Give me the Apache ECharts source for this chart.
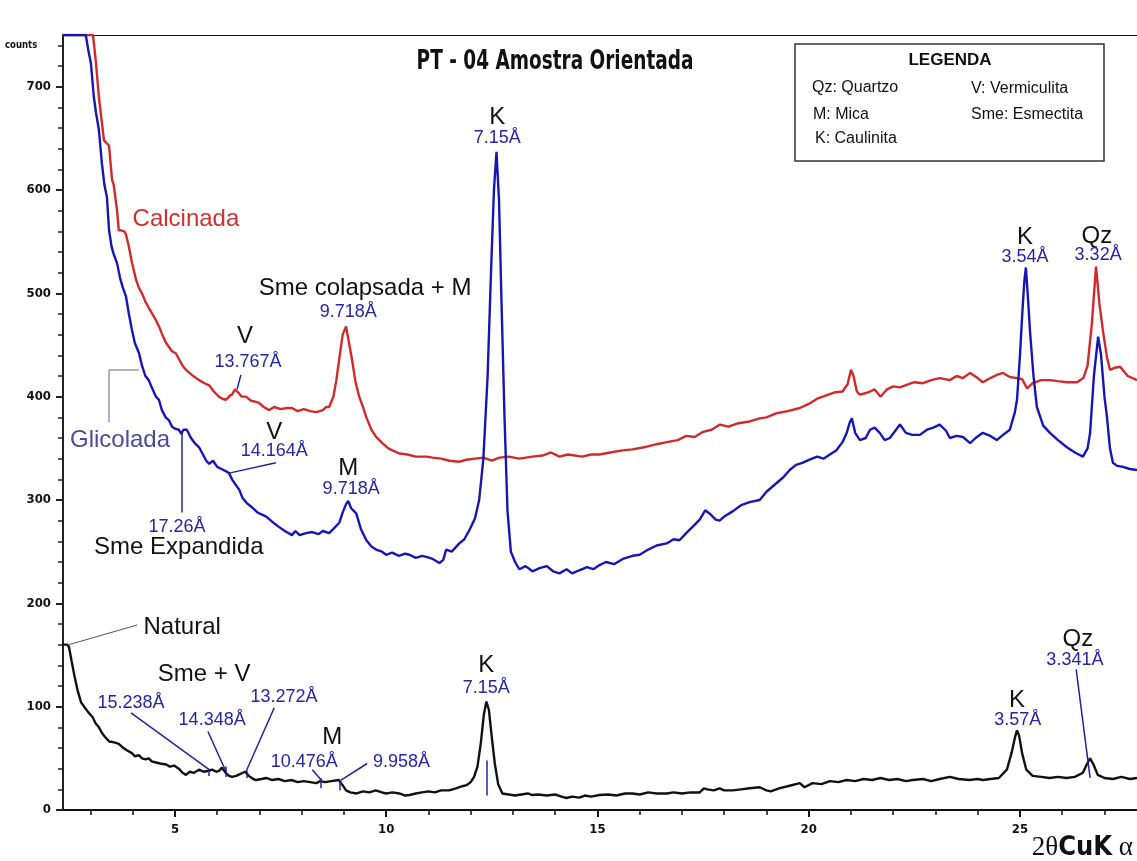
<!DOCTYPE html>
<html><head><meta charset="utf-8">
<script src="https://cdn.jsdelivr.net/npm/echarts@6.0.0/dist/echarts.min.js"></script>
<style>html,body{margin:0;padding:0;background:#fff}#c{width:1137px;height:861px}</style>
</head><body><div id="c"></div>
<script>
// ---- data (2θ in degrees, counts) ----
const natX = [2.35,2.45,2.49,2.55,2.62,2.7,2.78,2.85,2.96,3.05,3.12,3.2,3.28,3.36,3.45,3.51,3.6,3.67,3.75,3.85,3.98,4.05,4.15,4.22,4.3,4.38,4.45,4.55,4.65,4.79,4.88,4.98,5.09,5.18,5.26,5.35,5.45,5.57,5.68,5.8,5.88,5.98,6.05,6.11,6.2,6.28,6.35,6.45,6.55,6.66,6.75,6.85,6.92,7.05,7.16,7.3,7.45,7.6,7.77,7.9,8.05,8.2,8.35,8.44,8.55,8.7,8.88,8.95,9.05,9.15,9.3,9.45,9.6,9.75,9.9,10.0,10.15,10.31,10.45,10.55,10.7,10.85,11.0,11.15,11.3,11.49,11.65,11.8,11.9,12.0,12.08,12.16,12.24,12.31,12.37,12.43,12.5,12.57,12.65,12.75,12.9,13.05,13.2,13.35,13.46,13.6,13.8,14.0,14.15,14.27,14.4,14.57,14.7,14.85,15.05,15.25,15.45,15.65,15.83,16.0,16.2,16.4,16.64,16.8,17.0,17.2,17.42,17.52,17.6,17.75,17.89,18.0,18.2,18.4,18.6,18.84,19.0,19.1,19.3,19.5,19.79,19.9,20.09,20.3,20.5,20.7,20.9,21.1,21.3,21.5,21.7,21.9,22.1,22.3,22.46,22.7,22.9,23.1,23.34,23.55,23.8,24.0,24.12,24.3,24.5,24.69,24.8,24.88,24.93,24.98,25.05,25.15,25.3,25.5,25.7,25.9,26.1,26.3,26.49,26.58,26.66,26.74,26.84,27.0,27.2,27.4,27.6,27.77];
const natY = [160,160,158,145,130,115,104,100,94,90,84,80,74,70,66,66,65,64,61,58,55,52,53,50,49,50,47,46,45,44,42,43,40,36,34,37,36,39,37,38,39,37,38,41,36,33,32,33,35,37,33,30,29,30,31,29,30,28,29,27,28,27,26,28,27,28,29,25,19,17,16,18,17,19,17,16,17,16,14,14.5,16,17,18,17,19,19,21,23,24,27,32,42,65,92,105,97,70,45,25,16,15,14,15,16,14.5,15,14,15,13,11.6,13,12,14,13,14.5,15,14,16,16,15,17,16,16,17,16,17,17,21,20,19,21,19,19,20,21,22,19,18,21,23,26,22,26,25,28,27,29,28,30,29,31,29,30,28,29,30,28,30,32,30,29,30,29,30,31,39,55,70,77,72,55,39,33,32,31,32,31,32,36,44,50,44,34,31,30,32,30,31];

const gliX = [2.35,2.89,2.95,3.01,3.08,3.13,3.2,3.27,3.33,3.39,3.44,3.5,3.55,3.63,3.7,3.77,3.84,3.91,3.98,4.05,4.15,4.22,4.3,4.38,4.45,4.55,4.62,4.69,4.78,4.86,4.93,5.0,5.09,5.15,5.2,5.28,5.38,5.47,5.57,5.65,5.74,5.81,5.9,6.0,6.1,6.2,6.28,6.35,6.45,6.52,6.6,6.7,6.82,6.95,7.05,7.16,7.3,7.46,7.6,7.77,7.85,7.95,8.1,8.25,8.4,8.5,8.65,8.75,8.89,8.97,9.05,9.1,9.17,9.29,9.4,9.53,9.65,9.76,9.9,10.0,10.14,10.3,10.45,10.55,10.7,10.85,10.95,11.1,11.26,11.35,11.42,11.55,11.73,11.85,11.97,12.1,12.2,12.3,12.4,12.48,12.55,12.61,12.67,12.73,12.8,12.87,12.95,13.05,13.15,13.3,13.46,13.63,13.8,13.95,14.1,14.27,14.4,14.57,14.75,14.9,15.05,15.2,15.4,15.6,15.83,16.0,16.2,16.4,16.64,16.8,16.94,17.1,17.25,17.42,17.55,17.65,17.8,17.89,18.0,18.2,18.4,18.6,18.84,19.0,19.2,19.4,19.55,19.7,19.85,20.02,20.2,20.35,20.5,20.65,20.8,20.9,20.97,21.02,21.1,21.21,21.35,21.45,21.56,21.68,21.8,21.92,22.05,22.16,22.3,22.45,22.63,22.8,22.95,23.1,23.25,23.34,23.5,23.65,23.82,23.95,24.12,24.3,24.45,24.6,24.76,24.88,24.93,25.0,25.05,25.1,25.14,25.19,25.24,25.32,25.4,25.55,25.71,25.9,26.11,26.3,26.49,26.6,26.66,26.75,26.85,26.92,27.0,27.06,27.13,27.2,27.3,27.44,27.6,27.77];
const gliY = [750,750,735,723,690,675,658,626,605,593,561,545,538,529,515,505,497,480,465,452,442,430,420,416,409,400,397,387,380,377,371,369,368,364,368,368,360,355,351,345,338,335,338,332,330,328,326,320,314,310,302,297,293,288,286,284,279,274,270,266,270,266,268,269,267,270,268,272,278,288,296,299,292,287,272,261,255,252,250,247,249,246,248,247,244,246,245,243,239,242,252,250,258,262,271,282,300,340,420,520,600,637,590,490,380,290,250,240,233,236,231,234,236,231,229,233,229,232,235,233,237,240,238,243,246,247,252,256,258,262,261,268,274,281,290,287,281,280,284,289,295,298,300,308,315,322,329,334,336,339,342,340,344,348,356,365,375,379,365,358,360,368,370,365,358,360,367,373,365,363,363,368,370,373,367,360,362,361,355,360,365,362,358,363,368,385,397,440,477,510,525,495,462,420,390,372,365,358,351,346,342,350,365,420,458,440,400,380,350,336,333,332,330,329];

const calX = [2.35,3.06,3.13,3.2,3.32,3.39,3.44,3.51,3.55,3.63,3.67,3.72,3.8,3.84,3.91,3.98,4.08,4.15,4.22,4.3,4.38,4.45,4.55,4.62,4.7,4.79,4.86,4.93,5.02,5.1,5.18,5.26,5.4,5.57,5.7,5.81,5.92,6.04,6.12,6.21,6.3,6.35,6.42,6.5,6.58,6.68,6.8,6.92,6.99,7.1,7.23,7.35,7.5,7.65,7.77,7.9,8.05,8.2,8.35,8.5,8.58,8.65,8.75,8.82,8.9,8.97,9.05,9.12,9.19,9.27,9.36,9.45,9.53,9.65,9.76,9.91,10.05,10.2,10.31,10.5,10.7,10.95,11.1,11.3,11.5,11.73,11.9,12.1,12.3,12.5,12.68,12.9,13.15,13.46,13.7,13.9,14.1,14.3,14.64,14.85,15.05,15.3,15.6,15.83,16.1,16.4,16.64,16.9,17.1,17.3,17.5,17.7,17.9,18.1,18.3,18.6,18.84,19.0,19.24,19.5,19.79,20.0,20.2,20.4,20.6,20.8,20.92,21.0,21.06,21.14,21.21,21.4,21.56,21.7,21.85,22.0,22.16,22.35,22.5,22.7,22.9,23.1,23.34,23.5,23.65,23.82,24.0,24.12,24.3,24.45,24.6,24.76,24.93,25.05,25.17,25.3,25.5,25.71,25.9,26.11,26.35,26.5,26.6,26.7,26.8,26.88,26.97,27.06,27.13,27.25,27.37,27.55,27.77];
const calY = [750,750,723,690,648,645,643,610,605,580,561,561,560,557,545,530,513,505,500,492,486,481,474,468,460,452,448,444,442,436,430,426,421,416,413,411,405,400,398,397,401,402,407,404,400,400,396,395,394,390,387,390,388,389,389,386,388,386,385,387,390,390,400,416,440,460,468,452,436,415,400,390,380,368,361,355,350,347,345,344,342,342,341,340,338,337,339,340,341,338,341,342,340,342,343,346,342,344,342,344,344,346,348,349,351,354,356,358,362,361,366,368,373,371,374,376,379,380,384,386,389,393,398,401,404,405,412,426,420,405,402,404,407,400,407,410,409,412,414,413,416,418,416,420,418,423,418,414,418,421,423,419,418,417,408,413,416,416,415,414,414,418,430,470,526,490,462,438,426,428,429,420,416];

// tick values
const xLabelTicks = [5,10,15,20,25];
const xMinorTicks = [3,4,6,7,8,9,11,12,13,14,16,17,18,19,21,22,23,24,26,27];
const yLabelTicks = [0,100,200,300,400,500,600,700];
const yMinorTicks = [20,40,60,80,120,140,160,180,220,240,260,280,320,340,360,380,420,440,460,480,520,540,560,580,620,640,660,680,720,740];

// annotations: text, x (2θ), y (counts), kind
const annText = ['Calcinada','Sme colapsada + M','9.718Å','V','13.767Å','Glicolada','V','14.164Å','M','9.718Å','17.26Å','Sme Expandida','K','7.15Å','K','3.54Å','Qz','3.32Å','Natural','Sme + V','15.238Å','14.348Å','13.272Å','M','10.476Å','9.958Å','K','7.15Å','K','3.57Å','Qz','3.341Å'];
const annX = [5.26,9.50,9.10,6.66,6.73,3.70,7.35,7.35,9.10,9.17,5.05,5.09,12.63,12.63,25.12,25.12,26.82,26.85,5.17,5.69,3.96,5.88,7.58,8.72,8.06,10.36,12.37,12.37,24.93,24.95,26.37,26.30];
const annY = [572,505,482,458,434,358,365,347,331,311,274,254,670,650,554,535,555,537,177,131,104,87,109,70,46,46,140,118,106,87,165,145];
const annKind = ['red','black','blue','black','blue','gli','black','blue','black','blue','blue','black','black','blue','black','blue','black','blue','black','black','blue','blue','blue','black','blue','blue','black','blue','black','blue','black','blue'];

// leader lines: x1,y1,x2,y2,kind
const leadX1 = [6.56,7.39,5.15,2.49,3.44,3.44,3.96,5.78,7.35,8.25,9.55,12.38,26.33,5.81,6.20,6.70,8.46,8.89];
const leadY1 = [421,336,365,160,426,426,94,76,99,39,45,48,136,40,42,38,31,29];
const leadX2 = [6.47,6.28,5.15,4.10,4.15,3.44,5.81,6.21,6.68,8.46,8.93,12.38,26.66,5.81,6.20,6.70,8.46,8.89];
const leadY2 = [407,326,288,179,426,375,39,37,37,29,29,14,31,33,32,31,21,19];
const leadKind = ['blue','blue','blue','dark','gray','gray','blue','blue','blue','blue','blue','blue','blue','blue','blue','blue','blue','blue'];

// ---- build ----
const zip = (a,b)=>a.map((v,i)=>[v,b[i]]);
const RED='#d12a2a', BLUE='#1616b4', BLACK='#111111', LBLUE='#2525a6', GLI='#4a4a9c';
const kindStyle = {
  red:{color:'#d03030',fontSize:24},
  black:{color:'#111',fontSize:24},
  blue:{color:LBLUE,fontSize:18},
  gli:{color:GLI,fontSize:24}
};
const annData = annText.map((t,i)=>({
  value:[annX[i],annY[i]],
  label:Object.assign({show:true,position:'inside',formatter:t,opacity:1,fontFamily:"'Liberation Sans', Arial, sans-serif"}, kindStyle[annKind[i]])
}));
const lineColor = {blue:'#2222a0', gray:'#9a9a9a', dark:'#555'};
const leadData = leadX1.map((x,i)=>[
  {coord:[x,leadY1[i]], lineStyle:{color:lineColor[leadKind[i]], width:leadKind[i]==='dark'?1:1.5, type:'solid', opacity:1}},
  {coord:[leadX2[i],leadY2[i]]}
]);

const narrow = "'Liberation Sans Narrow','DejaVu Sans Condensed','Arial Narrow',sans-serif";
const XMIN=2.35, XMAX=27.77, YMIN=0, YMAX=750;

const chart = echarts.init(document.getElementById('c'), null, {renderer:'canvas'});
chart.setOption({
  animation:false,
  backgroundColor:'#fff',
  grid:{left:63,right:0,top:35,bottom:51,containLabel:false},
  xAxis:[
    {type:'value',min:XMIN,max:XMAX,position:'bottom',
     axisLine:{show:true,onZero:false,lineStyle:{color:'#111',width:2}},
     axisTick:{show:true,customValues:xLabelTicks,length:7,lineStyle:{color:'#111',width:2}},
     axisLabel:{show:true,customValues:xLabelTicks,margin:13,color:'#111',fontFamily:narrow,fontWeight:'bold',fontSize:13},
     splitLine:{show:false}},
    {type:'value',min:XMIN,max:XMAX,position:'bottom',
     axisLine:{show:false,onZero:false},
     axisTick:{show:true,customValues:xMinorTicks,length:5,lineStyle:{color:'#111',width:1.5}},
     axisLabel:{show:false},splitLine:{show:false}},
    {type:'value',min:XMIN,max:XMAX,position:'top',
     axisLine:{show:true,onZero:false,lineStyle:{color:'#111',width:1.2}},
     axisTick:{show:false},axisLabel:{show:false},splitLine:{show:false}}
  ],
  yAxis:[
    {type:'value',min:YMIN,max:YMAX,position:'left',
     axisLine:{show:true,onZero:false,lineStyle:{color:'#222',width:2}},
     axisTick:{show:true,customValues:yLabelTicks,length:7,lineStyle:{color:'#222',width:2}},
     axisLabel:{show:true,customValues:yLabelTicks,margin:12,color:'#111',fontFamily:narrow,fontWeight:'bold',fontSize:13},
     splitLine:{show:false}},
    {type:'value',min:YMIN,max:YMAX,position:'left',
     axisLine:{show:false,onZero:false},
     axisTick:{show:true,customValues:yMinorTicks,length:5,lineStyle:{color:'#222',width:1.5}},
     axisLabel:{show:false},splitLine:{show:false}}
  ],
  series:[
    {name:'Calcinada',type:'line',data:zip(calX,calY),showSymbol:false,symbol:'none',clip:true,
     lineStyle:{color:RED,width:2.4},z:2},
    {name:'Glicolada',type:'line',data:zip(gliX,gliY),showSymbol:false,symbol:'none',clip:true,
     lineStyle:{color:BLUE,width:2.4},z:3},
    {name:'Natural',type:'line',data:zip(natX,natY),showSymbol:false,symbol:'none',clip:true,
     lineStyle:{color:BLACK,width:2.4},z:4},
    {name:'annotations',type:'scatter',data:annData,symbolSize:1,itemStyle:{color:'rgba(0,0,0,0)',opacity:1},
     silent:true,z:6,
     markLine:{silent:true,symbol:['none','none'],label:{show:false},data:leadData,animation:false}}
  ],
  graphic:[
    {type:'text',x:5,y:45,scaleX:0.95,style:{text:'counts',fill:'#111',verticalAlign:'middle',font:"bold 10px "+narrow}},
    {type:'text',x:555,y:62,scaleX:0.79,style:{text:'PT - 04 Amostra Orientada',fill:'#111',align:'center',verticalAlign:'middle',font:"bold 26px "+narrow}},
    {type:'rect',shape:{x:795,y:44,width:309,height:117},style:{fill:'#fff',stroke:'#333',lineWidth:1.5},z:10},
    {type:'text',x:950,y:60,z:11,style:{text:'LEGENDA',fill:'#111',align:'center',verticalAlign:'middle',font:"bold 17px 'Liberation Sans', Arial, sans-serif"}},
    {type:'text',x:812,y:88,z:11,style:{text:'Qz: Quartzo',fill:'#111',verticalAlign:'middle',font:"16px 'Liberation Sans', Arial, sans-serif"}},
    {type:'text',x:971,y:89,z:11,style:{text:'V: Vermiculita',fill:'#111',verticalAlign:'middle',font:"16px 'Liberation Sans', Arial, sans-serif"}},
    {type:'text',x:813,y:115,z:11,style:{text:'M: Mica',fill:'#111',verticalAlign:'middle',font:"16px 'Liberation Sans', Arial, sans-serif"}},
    {type:'text',x:971,y:115,z:11,style:{text:'Sme: Esmectita',fill:'#111',verticalAlign:'middle',font:"16px 'Liberation Sans', Arial, sans-serif"}},
    {type:'text',x:815,y:139,z:11,style:{text:'K: Caulinita',fill:'#111',verticalAlign:'middle',font:"16px 'Liberation Sans', Arial, sans-serif"}},
    {type:'text',x:1133,y:848,z:11,style:{
      text:'{a|2θ}{b|CuK}{a| α}',align:'right',verticalAlign:'middle',
      rich:{a:{fontFamily:"'Liberation Serif','DejaVu Serif',serif",fontSize:27,fill:'#111'},
            b:{fontFamily:narrow,fontWeight:'bold',fontSize:27,fill:'#111'}}}}
  ]
});
</script></body></html>
